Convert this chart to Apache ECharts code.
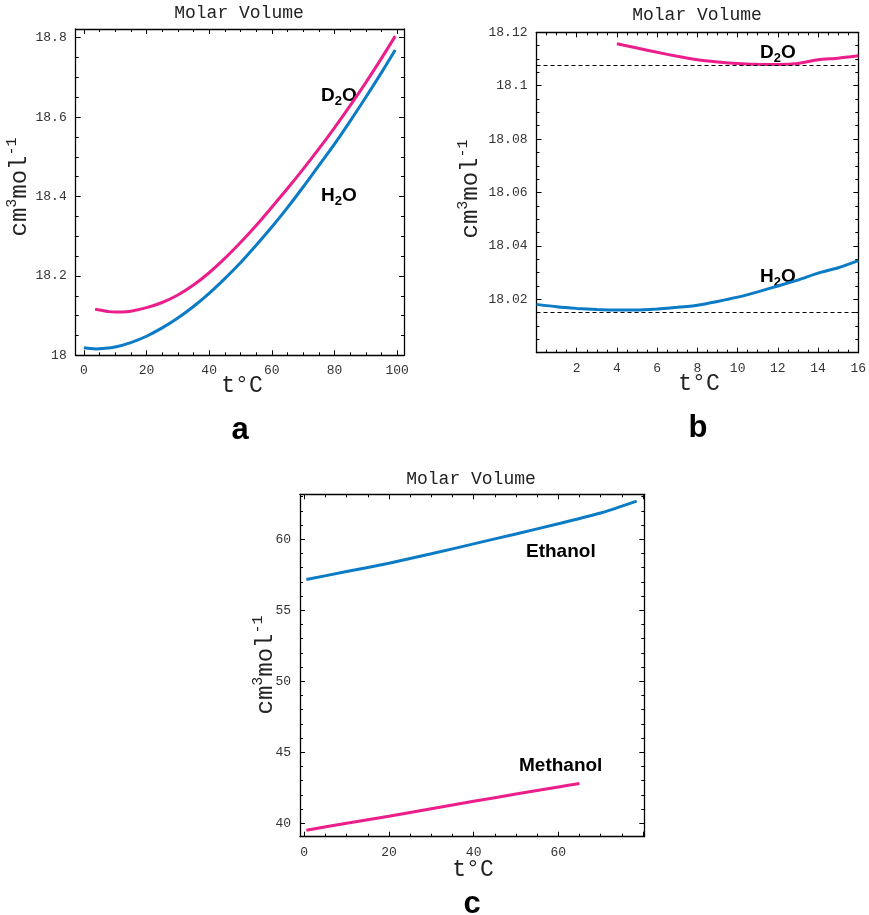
<!DOCTYPE html>
<html><head><meta charset="utf-8">
<script src="https://cdn.jsdelivr.net/npm/echarts@6/dist/echarts.min.js"></script>
<style>html,body{margin:0;padding:0;background:#fff}#c{width:869px;height:915px}</style>
</head><body><div id="c"></div>
<script>
// ---------- data ----------
// Panel a
const h2oA_t = [0, 2, 4, 6, 10, 15, 20, 25, 30, 35, 40, 45, 50, 55, 60, 65, 70, 75, 80, 85, 90, 95, 99.4];
const h2oA_v = [18.019, 18.017, 18.016, 18.017, 18.021, 18.032, 18.048, 18.069, 18.094, 18.123, 18.156, 18.193, 18.233, 18.277, 18.323, 18.372, 18.424, 18.478, 18.532, 18.59, 18.65, 18.712, 18.769];
const d2oA_t = [3.6, 6, 8, 10, 12, 15, 20, 25, 30, 35, 40, 45, 50, 55, 60, 65, 70, 75, 80, 85, 90, 95, 99.4];
const d2oA_v = [18.116, 18.113, 18.110, 18.109, 18.109, 18.111, 18.120, 18.133, 18.152, 18.177, 18.208, 18.244, 18.284, 18.327, 18.373, 18.420, 18.469, 18.520, 18.573, 18.629, 18.687, 18.748, 18.804];
// Panel b
const h2oB_t = [0, 1, 2, 3, 4, 5, 6, 7, 8, 9, 10, 11, 12, 13, 14, 15, 16];
const h2oB_v = [18.0181, 18.0172, 18.0166, 18.0162, 18.0160, 18.0160, 18.0164, 18.0170, 18.0178, 18.0192, 18.0208, 18.0228, 18.0250, 18.0272, 18.0298, 18.0318, 18.0345];
const d2oB_t = [4, 5, 6, 7, 8, 9, 10, 11, 12, 13, 14, 15, 16];
const d2oB_v = [18.1157, 18.1141, 18.1125, 18.1110, 18.1097, 18.1089, 18.1083, 18.1080, 18.1079, 18.1083, 18.1097, 18.1103, 18.1112];
const minLinesB = [18.1076, 18.0152];
// Panel c
const ethC_t = [0.5, 10, 20, 30, 40, 50, 60, 70, 78.5];
const ethC_v = [57.17, 57.73, 58.32, 58.98, 59.68, 60.38, 61.10, 61.85, 62.69];
const methC_t = [0.5, 10, 20, 30, 40, 50, 60, 65];
const methC_v = [39.52, 40.00, 40.50, 41.03, 41.55, 42.06, 42.56, 42.81];

// tick labels
const xLabelsA = [0, 20, 40, 60, 80, 100];
const yLabelsA = [18, 18.2, 18.4, 18.6, 18.8];
const xLabelsB = [2, 4, 6, 8, 10, 12, 14, 16];
const yLabelsB = [18.02, 18.04, 18.06, 18.08, 18.1, 18.12];
const xLabelsC = [0, 20, 40, 60];
const yLabelsC = [40, 45, 50, 55, 60];

// ---------- helpers ----------
function steps(a, b, s) { const r = []; for (let i = 0; a + i * s <= b + 1e-9; i++) r.push(Math.round((a + i * s) * 10000) / 10000); return r; }
const MONO = 'Liberation Mono, Courier New, monospace';
const SANS = 'Liberation Sans, Arial, sans-serif';
const PINK = '#EC1E8C';
const BLUE = '#0A7BC4';

const grids = [
  {left: 75.7, top: 29, width: 328.3, height: 326.3},
  {left: 536.5, top: 32.3, width: 321.8, height: 320.4},
  {left: 300, top: 494.3, width: 344.3, height: 342.4}
];
const ranges = [
  {x: [-2.6, 102.2], y: [18, 18.822]},
  {x: [0, 16], y: [18.0, 18.12]},
  {x: [-1.0, 80.3], y: [39.06, 63.17]}
];
const ticks = [
  {xMaj: steps(0, 100, 20), xMin: steps(0, 100, 5), yMaj: steps(18, 18.8, 0.2), yMin: steps(18, 18.8, 0.05), xl: xLabelsA, yl: yLabelsA},
  {xMaj: steps(0, 16, 2), xMin: steps(0, 16, 0.5), yMaj: steps(18, 18.12, 0.02), yMin: steps(18, 18.12, 0.005), xl: xLabelsB, yl: yLabelsB},
  {xMaj: steps(0, 80, 20), xMin: steps(0, 80, 5), yMaj: steps(40, 60, 5), yMin: steps(40, 63, 1), xl: xLabelsC, yl: yLabelsC}
];

const xAxes = [], yAxes = [];
function addAxes(list, gi, range, maj, labels, minr, sides) {
  const main = list.length;
  sides.forEach((pos, si) => {
    list.push({
      type: 'value', gridIndex: gi, position: pos, min: range[0], max: range[1],
      axisLine: {show: true, onZero: false, lineStyle: {color: '#000', width: 1.3}},
      axisTick: {show: true, inside: true, length: 5, customValues: maj, lineStyle: {color: '#000', width: 1}},
      axisLabel: si === 0 ? {show: true, customValues: labels, margin: 9, fontFamily: MONO, fontSize: 13, color: '#333'} : {show: false},
      splitLine: {show: false}, axisPointer: {show: false}
    });
    list.push({
      type: 'value', gridIndex: gi, position: pos, min: range[0], max: range[1],
      axisLine: {show: false, onZero: false},
      axisTick: {show: true, inside: true, length: 3, customValues: minr, lineStyle: {color: '#000', width: 1}},
      axisLabel: {show: false}, splitLine: {show: false}, axisPointer: {show: false}
    });
  });
  return main;
}
const mainX = [], mainY = [];
for (let g = 0; g < 3; g++) {
  mainX.push(addAxes(xAxes, g, ranges[g].x, ticks[g].xMaj, ticks[g].xl, ticks[g].xMin, ['bottom', 'top']));
  mainY.push(addAxes(yAxes, g, ranges[g].y, ticks[g].yMaj, ticks[g].yl, ticks[g].yMin, ['left', 'right']));
}
function pairs(t, v) { return t.map((x, i) => [x, v[i]]); }
function lineSeries(g, t, v, color, smooth, extra) {
  return Object.assign({
    type: 'line', xAxisIndex: mainX[g], yAxisIndex: mainY[g], data: pairs(t, v),
    showSymbol: false, symbol: 'none', smooth: smooth, clip: false,
    lineStyle: {color: color, width: 3}, itemStyle: {color: color}
  }, extra || {});
}
const series = [
  lineSeries(0, h2oA_t, h2oA_v, BLUE, 0.3),
  lineSeries(0, d2oA_t, d2oA_v, PINK, 0.3),
  lineSeries(1, h2oB_t, h2oB_v, BLUE, 0.2, {
    markLine: {silent: true, symbol: ['none', 'none'], label: {show: false}, animation: false, precision: 5,
      lineStyle: {type: [4, 3], color: '#000', width: 1},
      data: minLinesB.map(v => ({yAxis: v}))}
  }),
  lineSeries(1, d2oB_t, d2oB_v, PINK, 0.2),
  lineSeries(2, ethC_t, ethC_v, BLUE, 0.2),
  lineSeries(2, methC_t, methC_v, PINK, 0.2)
];

// ---------- texts ----------
function txt(x, y, text, font, opts) {
  return Object.assign({type: 'text', x: x, y: y, silent: true, style: Object.assign({
    text: text, font: font, fill: '#000', align: 'center', verticalAlign: 'middle',
    textAlign: 'center', textVerticalAlign: 'middle'
  }, (opts && opts.style) || {})}, (opts && opts.el) || {});
}
const chemRich = {
  b: {fontSize: 19, fontWeight: 'bold', fontFamily: SANS, fill: '#000', lineHeight: 24},
  s: {fontSize: 13, fontWeight: 'bold', fontFamily: SANS, fill: '#000', verticalAlign: 'bottom', lineHeight: 13}
};
function chem(x, y, text) {
  return txt(x, y, text, 'bold 19px ' + SANS, {style: {align: 'left', textAlign: 'left', rich: chemRich}});
}
const unitRich = {
  m: {fontSize: 24, fontFamily: MONO, fill: '#222', lineHeight: 30},
  s: {fontSize: 15, fontFamily: MONO, fill: '#222', verticalAlign: 'top', lineHeight: 15}
};
function unit(x, y) {
  return txt(x, y, '{m|cm}{s|3}{m|mol}{s|-1}', '24px ' + MONO, {style: {rich: unitRich}, el: {rotation: Math.PI / 2}});
}
const titleFont = '18px ' + MONO;
const axisNameFont = '23px ' + MONO;
const graphic = [
  txt(239, 13, 'Molar Volume', titleFont, {style: {fill: '#222'}}),
  txt(697, 15, 'Molar Volume', titleFont, {style: {fill: '#222'}}),
  txt(471, 479, 'Molar Volume', titleFont, {style: {fill: '#222'}}),
  txt(242, 386, 't°C', axisNameFont, {style: {fill: '#222'}}),
  txt(699, 384, 't°C', axisNameFont, {style: {fill: '#222'}}),
  txt(473, 870, 't°C', axisNameFont, {style: {fill: '#222'}}),
  unit(20, 187), unit(471, 189), unit(266, 665),
  txt(240, 430, 'a', 'bold 31px ' + SANS),
  txt(698, 428, 'b', 'bold 31px ' + SANS),
  txt(472, 904, 'c', 'bold 31px ' + SANS),
  chem(321, 96, '{b|D}{s|2}{b|O}'),
  chem(321, 196, '{b|H}{s|2}{b|O}'),
  chem(760, 53, '{b|D}{s|2}{b|O}'),
  chem(760, 277, '{b|H}{s|2}{b|O}'),
  txt(526, 552, 'Ethanol', 'bold 19px ' + SANS, {style: {align: 'left', textAlign: 'left'}}),
  txt(519, 766, 'Methanol', 'bold 19px ' + SANS, {style: {align: 'left', textAlign: 'left'}})
];

const chart = echarts.init(document.getElementById('c'), null, {renderer: 'canvas'});
chart.setOption({
  animation: false,
  backgroundColor: '#fff',
  grid: grids.map(g => Object.assign({containLabel: false, outerBoundsMode: 'none', show: false}, g)),
  xAxis: xAxes,
  yAxis: yAxes,
  series: series,
  graphic: graphic
});
</script></body></html>
